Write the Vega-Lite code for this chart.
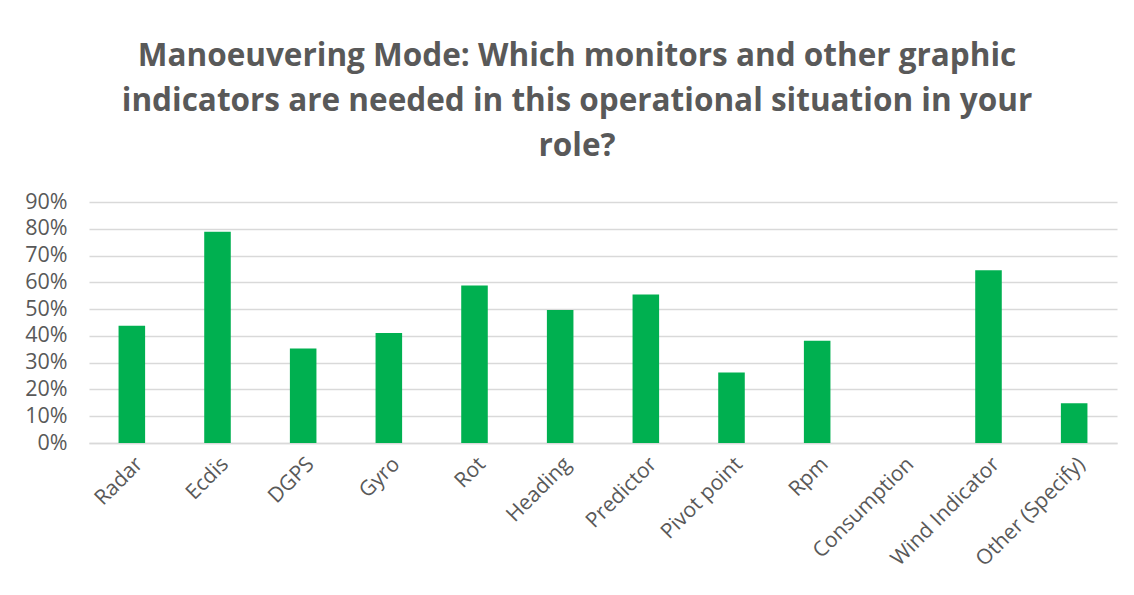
{
  "$schema": "https://vega.github.io/schema/vega-lite/v6.json",
  "autosize": {"type": "none"},
  "width": 1028,
  "height": 241,
  "padding": {"left": 89, "top": 202, "right": 17, "bottom": 152},
  "background": "white",
  "title": {
    "text": ["Manoeuvering Mode: Which monitors and other graphic", "indicators are needed in this operational situation in your", "role?"],
    "anchor": "middle",
    "frame": "group",
    "dx": -26,
    "offset": 29,
    "font": "Open Sans",
    "fontSize": 31.5,
    "fontWeight": "bold",
    "lineHeight": 45,
    "color": "#595959"
  },
  "data": {
    "values": [
      {"item": "Radar", "pct": 0.438},
      {"item": "Ecdis", "pct": 0.789},
      {"item": "DGPS", "pct": 0.353},
      {"item": "Gyro", "pct": 0.411},
      {"item": "Rot", "pct": 0.588},
      {"item": "Heading", "pct": 0.497},
      {"item": "Predictor", "pct": 0.555},
      {"item": "Pivot point", "pct": 0.263},
      {"item": "Rpm", "pct": 0.382},
      {"item": "Consumption", "pct": 0.0},
      {"item": "Wind Indicator", "pct": 0.645},
      {"item": "Other (Specify)", "pct": 0.148}
    ]
  },
  "mark": {"type": "bar", "color": "#00B050"},
  "encoding": {
    "x": {
      "field": "item",
      "type": "nominal",
      "sort": null,
      "scale": {"paddingInner": 0.69, "paddingOuter": 0.345},
      "axis": {
        "title": null,
        "labelAngle": -45,
        "labelFont": "Open Sans",
        "labelFontSize": 21,
        "labelColor": "#595959",
        "labelPadding": 10,
        "ticks": false,
        "domainColor": "#D9D9D9",
        "domainWidth": 1.5
      }
    },
    "y": {
      "field": "pct",
      "type": "quantitative",
      "scale": {"domain": [0, 0.9], "nice": false},
      "axis": {
        "title": null,
        "format": ".0%",
        "values": [0, 0.1, 0.2, 0.3, 0.4, 0.5, 0.6, 0.7, 0.8, 0.9],
        "labelFont": "Open Sans",
        "labelFontSize": 21.5,
        "labelColor": "#595959",
        "labelPadding": 22,
        "ticks": false,
        "domain": false,
        "gridColor": "#D9D9D9",
        "gridWidth": 1.5
      }
    }
  },
  "config": {"view": {"stroke": null}}
}
